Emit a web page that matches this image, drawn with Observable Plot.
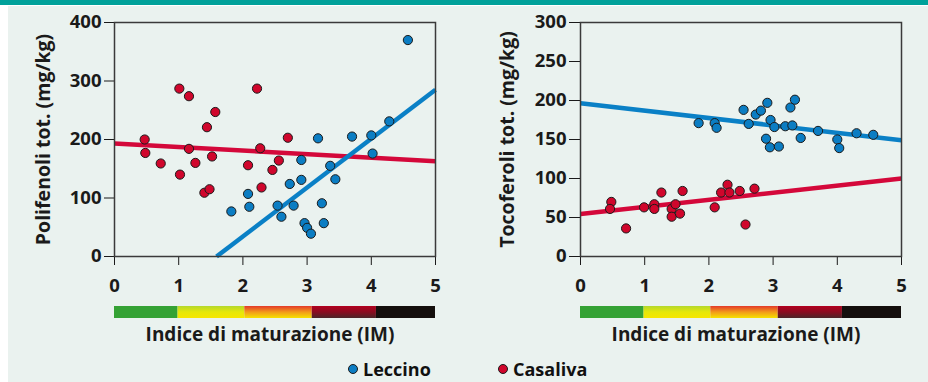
<!DOCTYPE html>
<html>
<head>
<meta charset="utf-8">
<script src="https://cdn.jsdelivr.net/npm/d3@7"></script>
<script src="https://cdn.jsdelivr.net/npm/@observablehq/plot@0.6"></script>
<style>
html, body { margin: 0; padding: 0; background: #ffffff; }
#root { position: relative; width: 928px; height: 382px; overflow: hidden; font-family: "Open Sans", sans-serif; }
#topbar { position: absolute; left: 0; top: 0; width: 928px; height: 5px; background: #00a19a; }
#bg { position: absolute; left: 8px; top: 6px; width: 920px; height: 376px; background: #eaf2ef; }
.abs { position: absolute; }
.leg { position: absolute; top: 357px; height: 24px; font-size: 18px; font-weight: 700; color: #111; line-height: 24px; white-space: nowrap; }
.leg .dot { position: absolute; left: 0; top: 7px; width: 8px; height: 8px; border-radius: 50%; border: 1px solid #1a1a1a; }
.leg .lab { position: absolute; left: 15px; top: 0; }
</style>
</head>
<body>
<div id="root">
  <div id="topbar"></div>
  <div id="bg"></div>
</div>
<script>
// ---------- data ----------
const xTicks = [0, 1, 2, 3, 4, 5];
const polyTicks = [0, 100, 200, 300, 400];
const tocoTicks = [0, 50, 100, 150, 200, 250, 300];
const series = ["Leccino", "Casaliva"];
const seriesColors = ["#0b7dc3", "#d0062c"];
const lineColors = ["#0a80c6", "#d4083a"];
const xLabel = "Indice di maturazione (IM)";
const polyLabel = "Polifenoli tot. (mg/kg)";
const tocoLabel = "Tocoferoli tot. (mg/kg)";

// Polifenoli – Leccino
const polyLeccinoIM  = [4.57, 3.17, 3.70, 4.00, 4.28, 4.02, 2.91, 3.36, 2.73, 2.91, 3.44, 2.08, 1.82, 2.10, 2.54, 2.60, 2.79, 3.23, 2.96, 3.00, 3.06, 3.26];
const polyLeccinoVal = [370, 202, 205, 207, 231, 176, 165, 155, 124, 131, 132, 107, 77, 85, 87, 68, 87, 91, 57, 49, 39, 57];
// Polifenoli – Casaliva
const polyCasalivaIM  = [0.47, 0.48, 0.72, 1.01, 1.02, 1.16, 1.16, 1.26, 1.44, 1.40, 1.48, 1.52, 1.57, 2.08, 2.22, 2.27, 2.29, 2.46, 2.56, 2.70];
const polyCasalivaVal = [200, 177, 159, 287, 140, 274, 184, 160, 221, 109, 115, 171, 247, 156, 287, 185, 118, 148, 164, 203];
// Tocoferoli – Leccino
const tocoLeccinoIM  = [1.84, 2.09, 2.12, 2.54, 2.62, 2.73, 2.81, 2.91, 2.96, 3.02, 2.89, 2.95, 3.09, 3.19, 3.30, 3.27, 3.34, 3.43, 3.70, 4.00, 4.03, 4.30, 4.56];
const tocoLeccinoVal = [171, 171, 165, 188, 170, 182, 187, 197, 175, 166, 151, 140, 141, 167, 168, 191, 201, 152, 161, 150, 139, 158, 156];
// Tocoferoli – Casaliva
const tocoCasalivaIM  = [0.48, 0.46, 0.71, 0.99, 1.15, 1.15, 1.26, 1.42, 1.42, 1.48, 1.55, 1.59, 2.09, 2.19, 2.29, 2.32, 2.48, 2.71, 2.57];
const tocoCasalivaVal = [70, 61, 36, 63, 67, 61, 82, 61, 51, 67, 55, 84, 63, 82, 92, 82, 84, 87, 41];

// regression lines (end points)
const polyLeccinoFitIM = [1.59, 5], polyLeccinoFitVal = [0, 285];
const polyCasalivaFitIM = [0, 5], polyCasalivaFitVal = [193, 163];
const tocoLeccinoFitIM = [0, 5], tocoLeccinoFitVal = [196.6, 149];
const tocoCasalivaFitIM = [0, 5], tocoCasalivaFitVal = [54.5, 100];

// maturity colour bands
const bandStart = [0, 0.99, 2.03, 3.08, 4.08];
const bandEnd   = [0.99, 2.03, 3.08, 4.08, 5];
const bandStops = [
  ["#34a234", "#34a234"],
  ["#b4d82c", "#e6e80a", "#f6e600"],
  ["#e43a2a", "#f29a1a", "#f6e200"],
  ["#b2001e", "#8a0c20", "#4c2427"],
  ["#140f0d", "#140f0d"]
];

// ---------- helpers ----------
const root = document.getElementById("root");
const NS = "http://www.w3.org/2000/svg";
const baseStyle = { fontFamily: "'Open Sans', sans-serif", fontSize: "18px", fontWeight: 700, background: "transparent", color: "#1a1a1a", overflow: "visible" };
const hasAxisMarks = typeof Plot.axisX === "function";

function place(el, left, top) {
  el.classList.add("abs");
  el.style.left = left + "px";
  el.style.top = top + "px";
  root.appendChild(el);
}

function forceTickFont(svg) {
  svg.querySelectorAll('g[aria-label*="axis"] text').forEach(t => {
    t.style.fontSize = "18.5px";
    t.style.fontWeight = "700";
    t.style.fontVariant = "normal";
  });
  return svg;
}

function panel(o) {
  const lecc = o.leccIM.map((x, i) => ({ x, y: o.leccVal[i] }));
  const cas = o.casIM.map((x, i) => ({ x, y: o.casVal[i] }));
  const fitL = o.fitLIM.map((x, i) => ({ x, y: o.fitLVal[i] }));
  const fitC = o.fitCIM.map((x, i) => ({ x, y: o.fitCVal[i] }));
  const xAxisOpts = { tickSize: 9, tickPadding: 13, tickFormat: "d", label: null };
  const yAxisOpts = { tickSize: o.yTickSize, tickPadding: 3, tickFormat: "d", label: null };
  const axes = hasAxisMarks ? [
    Plot.axisX(xTicks, { ...xAxisOpts, fontSize: 18.5, fontWeight: 700 }),
    Plot.axisY(o.yTicks, { ...yAxisOpts, fontSize: 18.5, fontWeight: 700 })
  ] : [];
  const svg = Plot.plot({
    width: 464, height: 300,
    marginLeft: o.marginLeft, marginRight: o.marginRight, marginTop: 22, marginBottom: 44,
    style: baseStyle,
    x: hasAxisMarks ? { domain: [0, 5] } : { domain: [0, 5], ticks: xTicks, ...xAxisOpts },
    y: hasAxisMarks ? { domain: o.yDomain } : { domain: o.yDomain, ticks: o.yTicks, ...yAxisOpts },
    marks: [
      ...axes,
      Plot.line(fitC, { x: "x", y: "y", stroke: lineColors[1], strokeWidth: 4.5, strokeLinecap: "butt" }),
      Plot.line(fitL, { x: "x", y: "y", stroke: lineColors[0], strokeWidth: 4.5, strokeLinecap: "butt" }),
      Plot.dot(cas, { x: "x", y: "y", r: 4.6, fill: seriesColors[1], stroke: "#1a1a1a", strokeWidth: 1 }),
      Plot.dot(lecc, { x: "x", y: "y", r: 4.6, fill: seriesColors[0], stroke: "#1a1a1a", strokeWidth: 1 }),
      Plot.frame({ stroke: "#3a3a3a", strokeWidth: 1.5 }),
      Plot.text([o.yLabel], { frameAnchor: "left", textAnchor: "middle", dx: o.labelDx, rotate: -90, fontSize: 19.5, fontWeight: 700, fill: "#1a1a1a" })
    ]
  });
  return forceTickFont(svg);
}

function colorbar(o, prefix) {
  const bands = bandStart.map((s, i) => ({ s, e: bandEnd[i], fill: `url(#${prefix}${i})` }));
  const defs = () => {
    const d = document.createElementNS(NS, "defs");
    bandStops.forEach((stops, i) => {
      const g = document.createElementNS(NS, "linearGradient");
      g.setAttribute("id", prefix + i);
      g.setAttribute("x1", "0"); g.setAttribute("x2", "0");
      g.setAttribute("y1", "0"); g.setAttribute("y2", "1");
      stops.forEach((c, j) => {
        const st = document.createElementNS(NS, "stop");
        st.setAttribute("offset", j / (stops.length - 1));
        st.setAttribute("stop-color", c);
        g.appendChild(st);
      });
      d.appendChild(g);
    });
    return d;
  };
  return Plot.plot({
    width: 464, height: 50,
    marginLeft: o.marginLeft, marginRight: o.marginRight, marginTop: 6, marginBottom: 32,
    style: baseStyle,
    x: { domain: [0, 5], axis: null },
    y: { axis: null },
    color: { type: "identity" },
    marks: [
      defs,
      Plot.rect(bands, { x1: "s", x2: "e", fill: "fill" }),
      Plot.text([xLabel], { frameAnchor: "bottom", dy: 22, dx: -5, fontSize: 19, fontWeight: 700, fill: "#1a1a1a" })
    ]
  });
}

const left = { leccIM: polyLeccinoIM, leccVal: polyLeccinoVal, casIM: polyCasalivaIM, casVal: polyCasalivaVal,
  fitLIM: polyLeccinoFitIM, fitLVal: polyLeccinoFitVal, fitCIM: polyCasalivaFitIM, fitCVal: polyCasalivaFitVal,
  yDomain: [0, 400], yTicks: polyTicks, yTickSize: 10, yLabel: polyLabel, marginLeft: 114, marginRight: 29, labelDx: -71 };
const right = { leccIM: tocoLeccinoIM, leccVal: tocoLeccinoVal, casIM: tocoCasalivaIM, casVal: tocoCasalivaVal,
  fitLIM: tocoLeccinoFitIM, fitLVal: tocoLeccinoFitVal, fitCIM: tocoCasalivaFitIM, fitCVal: tocoCasalivaFitVal,
  yDomain: [0, 300], yTicks: tocoTicks, yTickSize: 11, yLabel: tocoLabel, marginLeft: 116, marginRight: 27, labelDx: -73 };

place(panel(left), 0, 0);
place(panel(right), 464, 0);
place(colorbar(left, "gL"), 0, 300);
place(colorbar(right, "gR"), 464, 300);

// legend
[[series[0], seriesColors[0], 348], [series[1], seriesColors[1], 498]].forEach(([name, color, x]) => {
  const item = document.createElement("div");
  item.className = "leg";
  item.style.left = x + "px";
  const dot = document.createElement("span");
  dot.className = "dot";
  dot.style.background = color;
  const lab = document.createElement("span");
  lab.className = "lab";
  lab.textContent = name;
  item.appendChild(dot);
  item.appendChild(lab);
  root.appendChild(item);
});
</script>
</body>
</html>
